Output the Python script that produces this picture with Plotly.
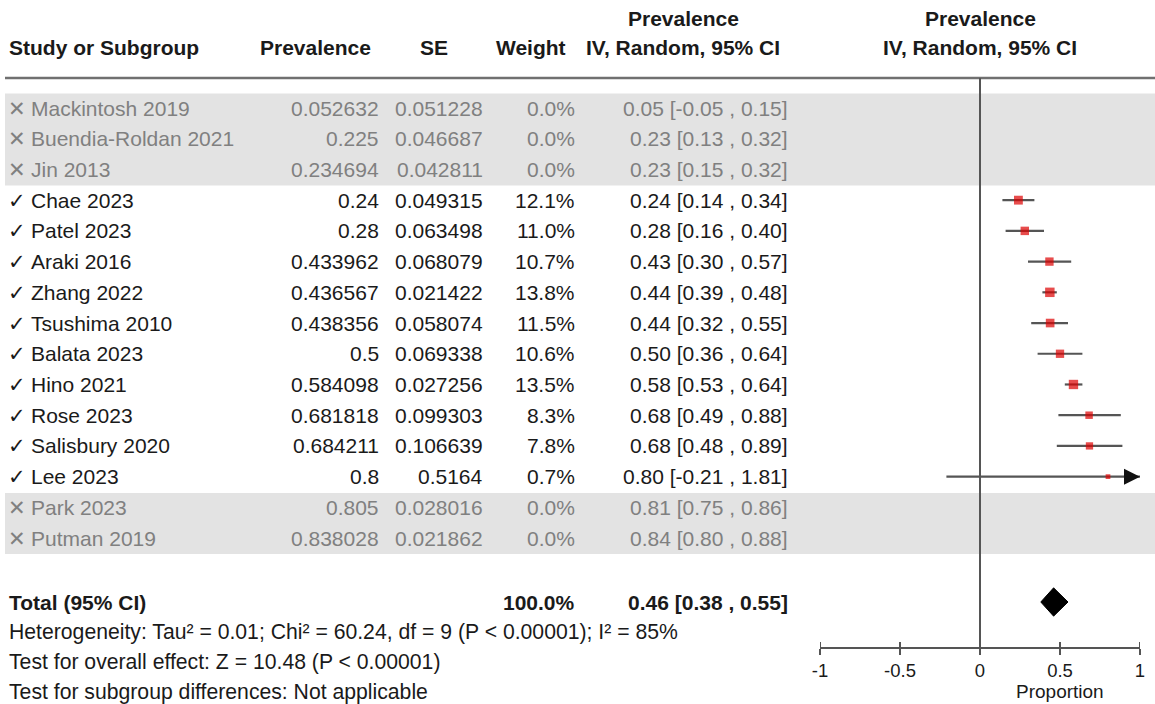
import plotly.graph_objects as go

# ---------------- data ----------------
studies = ["Mackintosh 2019", "Buendia-Roldan 2021", "Jin 2013", "Chae 2023", "Patel 2023",
           "Araki 2016", "Zhang 2022", "Tsushima 2010", "Balata 2023", "Hino 2021",
           "Rose 2023", "Salisbury 2020", "Lee 2023", "Park 2023", "Putman 2019"]
prevalence = ["0.052632", "0.225", "0.234694", "0.24", "0.28", "0.433962", "0.436567",
              "0.438356", "0.5", "0.584098", "0.681818", "0.684211", "0.8", "0.805", "0.838028"]
se = ["0.051228", "0.046687", "0.042811", "0.049315", "0.063498", "0.068079", "0.021422",
      "0.058074", "0.069338", "0.027256", "0.099303", "0.106639", "0.5164", "0.028016", "0.021862"]
weights = [0.0, 0.0, 0.0, 12.1, 11.0, 10.7, 13.8, 11.5, 10.6, 13.5, 8.3, 7.8, 0.7, 0.0, 0.0]
ci_est = [0.05, 0.23, 0.23, 0.24, 0.28, 0.43, 0.44, 0.44, 0.50, 0.58, 0.68, 0.68, 0.80, 0.81, 0.84]
ci_low = [-0.05, 0.13, 0.15, 0.14, 0.16, 0.30, 0.39, 0.32, 0.36, 0.53, 0.49, 0.48, -0.21, 0.75, 0.80]
ci_high = [0.15, 0.32, 0.32, 0.34, 0.40, 0.57, 0.48, 0.55, 0.64, 0.64, 0.88, 0.89, 1.81, 0.86, 0.88]
included = [False, False, False, True, True, True, True, True, True, True, True, True, True, False, False]

total_weight = "100.0%"
total_est, total_low, total_high = 0.46, 0.38, 0.55
footer_lines = ["Heterogeneity: Tau² = 0.01; Chi² = 60.24, df = 9 (P < 0.00001); I² = 85%",
                "Test for overall effect: Z = 10.48 (P < 0.00001)",
                "Test for subgroup differences: Not applicable"]
tick_vals = [-1, -0.5, 0, 0.5, 1]
tick_text = ["-1", "-0.5", "0", "0.5", "1"]
axis_min, axis_max = -1, 1

# ---------------- layout constants ----------------
W, H = 1155, 704
ROW_PX = 30.72
ROW0_PX = 108
def r_of(p):
    return (p - ROW0_PX) / ROW_PX
def px(x):
    return x / W

FONT = "Liberation Sans, Arial, DejaVu Sans, sans-serif"
FS = 21
DARK = "#1a1a1a"
GREY = "#808080"
BAND = "#e3e3e3"
LINE = "#555555"

rows = list(range(len(studies)))
total_row = r_of(602)
footer_rows = [r_of(632), r_of(662), r_of(692)]
axis_row = r_of(648)
hdr1_row = r_of(18)
hdr2_row = r_of(47)
hline_row = r_of(78)

fig = go.Figure()
annotations = []
shapes = []

def txt(x, y, s, anchor="left", bold=False, color=DARK, size=FS):
    annotations.append(dict(x=px(x), y=y, xref="paper", yref="y", text=("<b>%s</b>" % s) if bold else s,
                            showarrow=False, xanchor=anchor, yanchor="middle", borderpad=0,
                            font=dict(family=FONT, size=size, color=color)))

# header
txt(8, hdr2_row, "Study or Subgroup", bold=True)
txt(372, hdr2_row, "Prevalence", anchor="right", bold=True)
txt(434, hdr2_row, "SE", anchor="center", bold=True)
txt(567, hdr2_row, "Weight", anchor="right", bold=True)
txt(683, hdr1_row, "Prevalence", anchor="center", bold=True)
txt(683, hdr2_row, "IV, Random, 95% CI", anchor="center", bold=True)
txt(980, hdr1_row, "Prevalence", anchor="center", bold=True)
txt(980, hdr2_row, "IV, Random, 95% CI", anchor="center", bold=True)

shapes.append(dict(type="line", xref="paper", yref="y", x0=px(5), x1=1, y0=hline_row, y1=hline_row,
                   line=dict(color="#707070", width=2.5)))

# grey bands for excluded studies (consecutive runs)
i = 0
while i < len(studies):
    if not included[i]:
        j = i
        while j + 1 < len(studies) and not included[j + 1]:
            j += 1
        shapes.append(dict(type="rect", xref="paper", yref="y", x0=px(5), x1=1,
                           y0=rows[i] - 0.47, y1=rows[j] + 0.52, fillcolor=BAND, line_width=0, layer="below"))
        i = j + 1
    else:
        i += 1

# study rows
for k, name in enumerate(studies):
    col = DARK if included[k] else GREY
    txt(7, rows[k], "✓" if included[k] else "✕", color=col)
    txt(30, rows[k], name, color=col)
    txt(380, rows[k], prevalence[k], anchor="right", color=col)
    txt(484, rows[k], se[k], anchor="right", color=col)
    txt(576, rows[k], "%.1f%%" % weights[k], anchor="right", color=col)
    txt(789, rows[k], "%.2f [%.2f , %.2f]" % (ci_est[k], ci_low[k], ci_high[k]), anchor="right", color=col)

# totals + footer
txt(8, total_row, "Total (95% CI)", bold=True)
txt(576, total_row, total_weight, anchor="right", bold=True)
txt(789, total_row, "%.2f [%.2f , %.2f]" % (total_est, total_low, total_high), anchor="right", bold=True)
for fr, line in zip(footer_rows, footer_lines):
    txt(8, fr, line, size=21.2)

# zero line
shapes.append(dict(type="line", xref="x", yref="y", x0=0, x1=0, y0=hline_row, y1=axis_row,
                   line=dict(color=LINE, width=2)))

# CI lines + markers for included studies
for k in range(len(studies)):
    if not included[k]:
        continue
    lo = max(ci_low[k], axis_min)
    hi = min(ci_high[k], axis_max)
    fig.add_trace(go.Scatter(x=[lo, hi], y=[rows[k], rows[k]], mode="lines",
                             line=dict(color=LINE, width=2.2), hoverinfo="skip",
                             showlegend=False, cliponaxis=False))
    if ci_high[k] > axis_max:
        annotations.append(dict(x=axis_max, y=rows[k], xref="x", yref="y", ax=axis_max - 0.1, ay=rows[k],
                                axref="x", ayref="y", text="", showarrow=True, arrowhead=2,
                                arrowsize=1.6, arrowwidth=2, arrowcolor="#111"))
    if ci_low[k] < axis_min:
        annotations.append(dict(x=axis_min, y=rows[k], xref="x", yref="y", ax=axis_min + 0.1, ay=rows[k],
                                axref="x", ayref="y", text="", showarrow=True, arrowhead=2,
                                arrowsize=1.6, arrowwidth=2, arrowcolor="#111"))

inc_idx = [k for k in range(len(studies)) if included[k]]
fig.add_trace(go.Scatter(
    x=[float(prevalence[k]) for k in inc_idx], y=[rows[k] for k in inc_idx], mode="markers",
    marker=dict(symbol="square", color="#dd0000", size=[4.5 + 0.36 * weights[k] for k in inc_idx],
                line=dict(width=0)),
    showlegend=False, cliponaxis=False,
    hovertext=[studies[k] for k in inc_idx]))

# diamond
dh = 0.46
fig.add_trace(go.Scatter(
    x=[total_low, total_est, total_high, total_est, total_low],
    y=[total_row, total_row - dh, total_row, total_row + dh, total_row],
    mode="lines", fill="toself", fillcolor="black", line=dict(color="black", width=1),
    showlegend=False, cliponaxis=False, hoverinfo="skip"))

# upward tick halves
for tv in tick_vals:
    shapes.append(dict(type="line", xref="x", yref="y", x0=tv, x1=tv, y0=axis_row, y1=axis_row - 6 / ROW_PX,
                       line=dict(color=LINE, width=2)))

annotations.append(dict(x=0.5, y=r_of(691), xref="x", yref="y", text="Proportion", showarrow=False,
                        xanchor="center", yanchor="middle", font=dict(family=FONT, size=19, color=DARK)))

fig.update_layout(
    template="none",
    width=W, height=H, margin=dict(l=0, r=0, t=0, b=0, pad=0), autosize=False,
    paper_bgcolor="white", plot_bgcolor="rgba(0,0,0,0)",
    xaxis=dict(domain=[px(820), px(1140)], range=[axis_min, axis_max], anchor="free",
               position=1 - 648 / H, showline=True, linecolor=LINE, linewidth=2, automargin=False,
               tickvals=tick_vals, ticktext=tick_text, ticks="outside", ticklen=6, tickwidth=2,
               tickcolor=LINE, showgrid=False, zeroline=False,
               tickfont=dict(family=FONT, size=18.5, color=DARK)),
    yaxis=dict(domain=[0, 1], range=[r_of(H), r_of(0)], visible=False, showgrid=False,
               zeroline=False, automargin=False),
    annotations=annotations, shapes=shapes, showlegend=False,
)

fig.write_html("out.html", config={"responsive": False, "displayModeBar": False},
               post_script="document.body.style.margin='0px';document.body.style.overflow='hidden';")
